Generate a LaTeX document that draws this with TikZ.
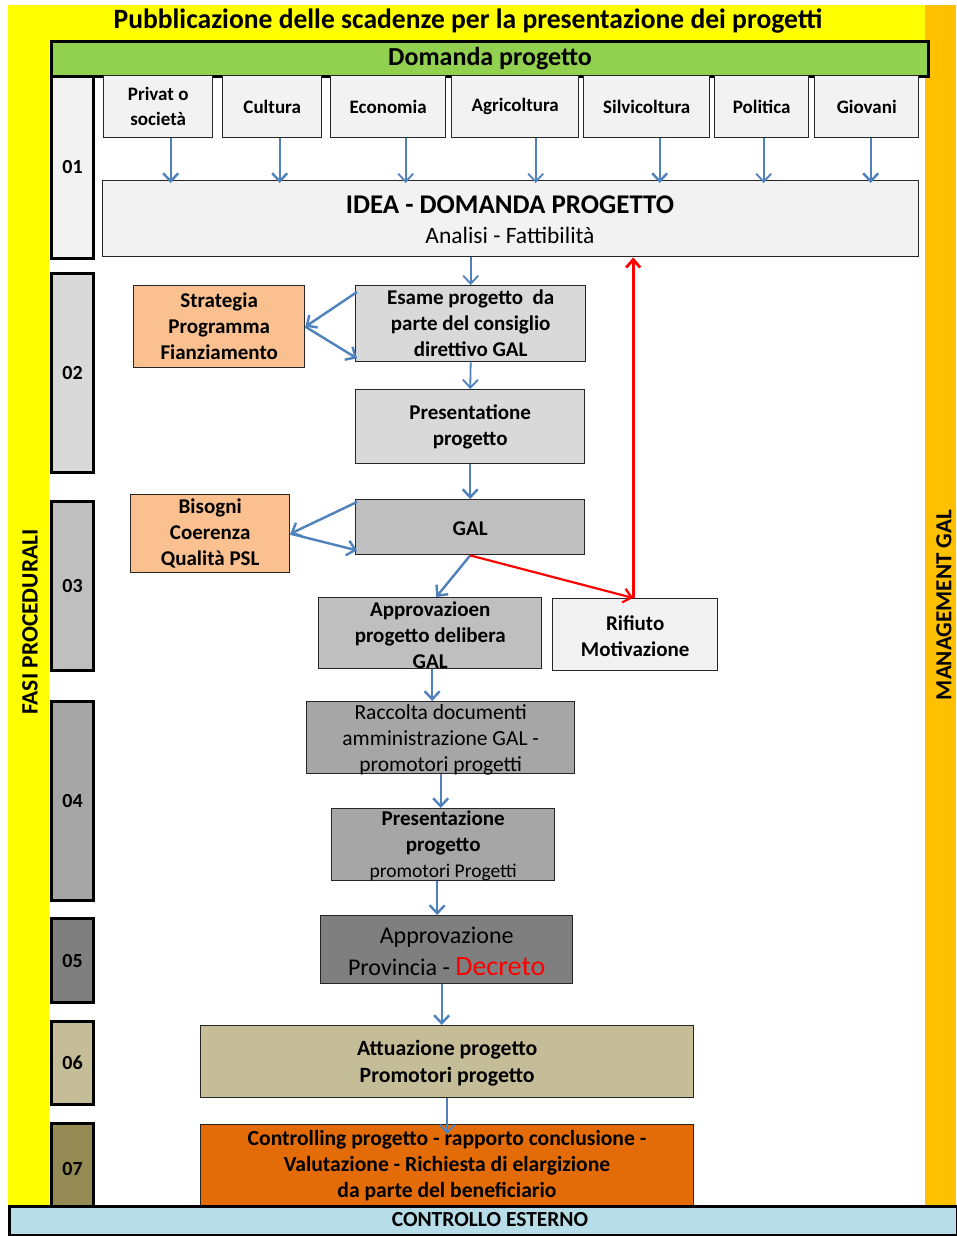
\documentclass[tikz,border=0pt]{standalone}
\usepackage{fontspec}
\setmainfont{Carlito}
\usetikzlibrary{arrows.meta}
\definecolor{bandyellow}{HTML}{FFFF00}
\definecolor{mgmtorange}{HTML}{FFC000}
\definecolor{headgreen}{HTML}{92D050}
\definecolor{grayA}{HTML}{F2F2F2}
\definecolor{grayB}{HTML}{D9D9D9}
\definecolor{grayC}{HTML}{BFBFBF}
\definecolor{grayD}{HTML}{A6A6A6}
\definecolor{grayE}{HTML}{7F7F7F}
\definecolor{tanfill}{HTML}{C4BD97}
\definecolor{olivefill}{HTML}{948A54}
\definecolor{peach}{HTML}{FAC090}
\definecolor{burnt}{HTML}{E36C09}
\definecolor{paleblue}{HTML}{B7DEE8}
\definecolor{flowblue}{HTML}{4F81BD}
\definecolor{rejectred}{HTML}{FF0000}
\newcommand{\fsz}[2]{\fontsize{#1}{#2}\selectfont}

\begin{document}
\begin{tikzpicture}[x=1pt,y=-1pt,
  box/.style={draw=black!85, line width=1.4pt, inner sep=0pt, anchor=north west},
  cat/.style={box, fill=grayA, minimum height=62, align=center, font=\fsz{19}{25}\bfseries},
  phase/.style={draw=black, line width=3pt, inner sep=0pt, anchor=north west, minimum width=42, font=\fsz{20}{24}\bfseries},
  lbl/.style={inner sep=0pt, align=center, font=\fsz{21}{26}\bfseries},
  flow/.style={draw=flowblue, line width=2.4pt, -{Straight Barb[length=8pt,width=15pt]}},
  thinflow/.style={flow, line width=1.8pt},
  reject/.style={draw=rejectred, line width=2.8pt, -{Straight Barb[length=8pt,width=14pt]}},
]
\useasboundingbox (0,0) rectangle (956,1236);
\fill[white] (0,0) rectangle (956,1236);
% coloured frame: yellow band with title and phase column, orange management column
\fill[bandyellow] (8,5) rectangle (925,1205);
\fill[white] (49,40) rectangle (925,1205);
\fill[mgmtorange] (925,5) rectangle (956,1205);

\node[font=\fsz{28}{30}\bfseries] (title) at (468,21) {\scalebox{0.985}[1]{Pubblicazione delle scadenze per la presentazione dei progetti}};
\node[draw=black, line width=3pt, fill=headgreen, anchor=north west, minimum width=877, minimum height=35, inner sep=0pt, font=\fsz{26}{28}\bfseries] (head) at (50,40) {Domanda progetto};

\node[rotate=90, font=\fsz{23.5}{25}\bfseries] (fasi) at (30,622) {FASI PROCEDURALI};
\node[rotate=90, font=\fsz{23}{25}\bfseries] (mgmt) at (944,605) {MANAGEMENT GAL};

% phase column
\node[phase, fill=grayA, minimum height=182] (p1) at (50,75) {01};
\node[phase, fill=grayB, minimum height=199] (p2) at (50,272) {02};
\node[phase, fill=grayC, minimum height=169] (p3) at (50,500) {03};
\node[phase, fill=grayD, minimum height=199] (p4) at (50,700) {04};
\node[phase, fill=grayE, minimum height=84] (p5) at (50,917) {05};
\node[phase, fill=tanfill, minimum height=83] (p6) at (50,1020) {06};
\node[phase, fill=olivefill, minimum height=90] (p7) at (50,1122) {07};

% sources of project requests
\node[cat, minimum width=109] (privat) at (103,75) {Privat o\\società};
\node[cat, minimum width=99] (cultura) at (222,75) {Cultura};
\node[cat, minimum width=115] (economia) at (330,75) {Economia};
\node[cat, minimum width=127] (agri) at (451,75) {Agricoltura};
\node[cat, minimum width=126] (silvi) at (583,75) {Silvicoltura};
\node[cat, minimum width=94] (politica) at (714,75) {Politica};
\node[cat, minimum width=104] (giovani) at (814,75) {Giovani};

\node[box, fill=grayA, minimum width=816, minimum height=76] (idea) at (102,180) {};
\node[font=\fsz{27}{30}\bfseries] (idea-t) at (510,205) {IDEA - DOMANDA PROGETTO};
\node[font=\fsz{23.5}{26}] (idea-s) at (510,235) {Analisi - Fattibilità};

% phase 02
\node[box, fill=peach, minimum width=171, minimum height=82] (strat) at (133,285) {};
\node[lbl] (strat-t) at (strat.center) {Strategia\\Programma\\Fianziamento};
\node[box, fill=grayB, minimum width=230, minimum height=76] (esame) at (355,285) {};
\node[lbl] (esame-t) at (esame.center) {Esame progetto\ \ da\\parte del consiglio\\direttivo GAL};
\node[box, fill=grayB, minimum width=229, minimum height=74] (pres) at (355,389) {};
\node[lbl] (pres-t) at (pres.center) {Presentatione\\progetto};

% phase 03
\node[box, fill=peach, minimum width=159, minimum height=78] (bisogni) at (130,494) {};
\node[lbl] (bisogni-t) at (bisogni.center) {Bisogni\\Coerenza\\Qualità PSL};
\node[box, fill=grayC, minimum width=229, minimum height=55] (gal) at (355,499) {};
\node[lbl] (gal-t) at ([shift={(0,1)}]gal.center) {GAL};
\node[box, fill=grayC, minimum width=223, minimum height=71] (appr) at (318,597) {};
\node[lbl] (appr-t) at ([shift={(0,2)}]appr.center) {Approvazioen\\progetto delibera\\GAL};
\node[box, fill=grayA, minimum width=165, minimum height=72] (rif) at (552,598) {};
\node[lbl] (rif-t) at ([shift={(0,1)}]rif.center) {Rifiuto\\Motivazione};

% phase 04
\node[box, fill=grayD, minimum width=268, minimum height=72] (racc) at (306,701) {};
\node[lbl, font=\fsz{21.5}{26}] (racc-t) at ([shift={(0,2)}]racc.center) {Raccolta documenti\\amministrazione GAL -\\promotori progetti};
\node[box, fill=grayD, minimum width=223, minimum height=72] (pres2) at (331,808) {};
\node[lbl] (pres2-t) at ([shift={(0,1)}]pres2.center) {Presentazione\\progetto\\{\mdseries\fsz{19.5}{26}promotori Progetti}};

% phase 05
\node[box, fill=grayE, minimum width=252, minimum height=68] (prov) at (320,915) {};
\node[lbl, font=\fsz{24}{32}] (prov-t) at ([shift={(0,2)}]prov.center) {Approvazione\\Provincia - {\fsz{28}{32}\color{rejectred}Decreto}};

% phase 06
\node[box, fill=tanfill, minimum width=493, minimum height=72] (attu) at (200,1025) {};
\node[lbl, font=\fsz{21.8}{27}\bfseries] (attu-t) at ([shift={(0,1)}]attu.center) {Attuazione progetto\\Promotori progetto};

% phase 07
\node[box, fill=burnt, minimum width=493, minimum height=90] (ctrl) at (200,1124) {};
\node[lbl, font=\fsz{21.6}{26}\bfseries] (ctrl-t) at (447,1166) {Controlling progetto - rapporto conclusione -\\Valutazione - Richiesta di elargizione\\da parte del beneficiario};

% external control bar
\node[draw=black, line width=2.5pt, fill=paleblue, anchor=north west, minimum width=948, minimum height=29, inner sep=0pt] (ext) at (8,1205) {};
\node[font=\fsz{21.5}{22}\bfseries] (ext-t) at (490,1220) {CONTROLLO ESTERNO};

% requests flowing into the idea box
\draw[flow, shorten >=-3pt] ([shift={(12.5,0)}]privat.south) -- ([shift={(12.5,0)}]privat.south |- idea.north);
\draw[flow, shorten >=-3pt] ([shift={(7.5,0)}]cultura.south) -- ([shift={(7.5,0)}]cultura.south |- idea.north);
\draw[thinflow, shorten >=-3pt] ([shift={(17.5,0)}]economia.south) -- ([shift={(17.5,0)}]economia.south |- idea.north);
\draw[thinflow, shorten >=-3pt] ([shift={(20.5,0)}]agri.south) -- ([shift={(20.5,0)}]agri.south |- idea.north);
\draw[flow, shorten >=-3pt] ([shift={(13,0)}]silvi.south) -- ([shift={(13,0)}]silvi.south |- idea.north);
\draw[thinflow, shorten >=-3pt] ([shift={(2,0)}]politica.south) -- ([shift={(2,0)}]politica.south |- idea.north);
\draw[flow, shorten >=-3pt] ([shift={(4,0)}]giovani.south) -- ([shift={(4,0)}]giovani.south |- idea.north);

% main procedural flow
\draw[thinflow] (esame.north |- idea.south) -- (esame.north);
\draw[thinflow] (esame.south) -- (pres.north);
\draw[flow] (pres.south) -- (gal.north);
\draw[flow] ([shift={(2,7)}]esame.north west) -- (strat.east);
\draw[flow] (strat.east) -- ([shift={(2,-4)}]esame.south west);
\draw[flow] ([shift={(2,3)}]gal.north west) -- (bisogni.east);
\draw[flow] (bisogni.east) -- ([shift={(2,-5)}]gal.south west);
\draw[flow] (gal.south) -- ([shift={(6,0)}]appr.north);
\draw[reject, line width=2.2pt] (gal.south) -- ([shift={(-2,0)}]rif.north);
\draw[reject] ([shift={(-2,0)}]rif.north) -- ([shift={(-2,0)}]rif.north |- idea.south);
\draw[flow] ([shift={(2,0)}]appr.south) -- ([shift={(2,0)}]appr.south |- racc.north);
\draw[flow] (racc.south) -- (racc.south |- pres2.north);
\draw[flow] ([shift={(-6,0)}]pres2.south) -- ([shift={(-6,0)}]pres2.south |- prov.north);
\draw[flow] ([shift={(-5,0)}]prov.south) -- ([shift={(-5,0)}]prov.south |- attu.north);
\draw[thinflow, shorten >=-10pt] (attu.south) -- (attu.south |- ctrl.north);
\end{tikzpicture}
\end{document}
